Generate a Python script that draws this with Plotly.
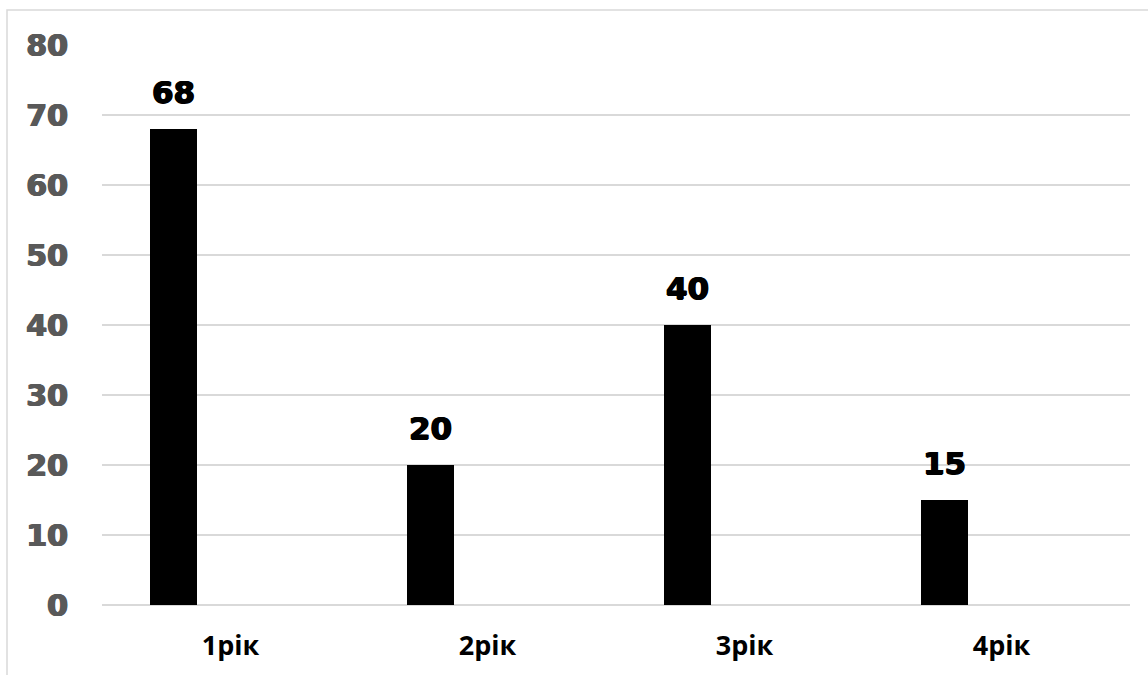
import plotly.graph_objects as go

# Years of study and number of respondents in each
categories = ["1рік", "2рік", "3рік", "4рік"]
values = [68, 20, 40, 15]
y_ticks = [0, 10, 20, 30, 40, 50, 60, 70, 80]

# Plot area geometry in pixels (used for the frame shape and label offsets)
W, H = 1148, 675
M_L, M_R, M_T, M_B = 102, 18, 45, 70
plot_w = W - M_L - M_R
plot_h = H - M_T - M_B
cat_px = plot_w / len(categories)

bar_offset = -0.313   # bar sits in the left half of each category slot
bar_width = 0.182

# A faint horizontal shadow thickens the bold strokes into a heavier face
def heavy(color):
    return f"0.8px 0 0 {color}, -0.8px 0 0 {color}, 0 0.5px 0 {color}"

fig = go.Figure()
fig.add_trace(go.Bar(
    x=categories,
    y=values,
    offset=bar_offset,
    width=bar_width,
    marker=dict(color="#000000", line=dict(width=0)),
    hoverinfo="x+y",
    showlegend=False,
))

# Value labels above each bar
for c, v in zip(categories, values):
    fig.add_annotation(
        x=c, y=v, xref="x", yref="y",
        text=str(v), showarrow=False,
        xanchor="center", yanchor="bottom",
        xshift=(bar_offset + bar_width / 2) * cat_px,
        yshift=17,
        font=dict(family="DejaVu Sans", size=31, color="#000000",
                  weight="bold", shadow=heavy("#000000")),
    )

# Light grey chart frame
def px_x(p):
    return (p - M_L) / plot_w

def px_y(p):
    return (H - M_B - p) / plot_h

fig.add_shape(
    type="rect", xref="paper", yref="paper",
    x0=px_x(7), x1=px_x(W + 5), y0=px_y(H + 5), y1=px_y(10),
    line=dict(color="#d9d9d9", width=1.5), fillcolor="rgba(0,0,0,0)",
    layer="below",
)

fig.update_layout(
    width=W, height=H,
    margin=dict(l=M_L, r=M_R, t=M_T, b=M_B),
    paper_bgcolor="#ffffff",
    plot_bgcolor="#ffffff",
    bargap=0,
    xaxis=dict(
        type="category",
        showgrid=False,
        showline=False,
        zeroline=False,
        ticks="",
        ticklabelstandoff=22,
        tickfont=dict(family="Open Sans", size=27, color="#000000", weight="bold"),
    ),
    yaxis=dict(
        range=[0, 80],
        tickvals=y_ticks,
        showgrid=True,
        gridcolor="#d9d9d9",
        gridwidth=1.5,
        zeroline=True,
        zerolinecolor="#d9d9d9",
        zerolinewidth=1.5,
        showline=False,
        ticks="",
        ticklabelstandoff=33,
        tickfont=dict(family="DejaVu Sans", size=30, color="#595959",
                      weight="bold", shadow=heavy("#595959")),
    ),
)

fig.write_html("out.html")
